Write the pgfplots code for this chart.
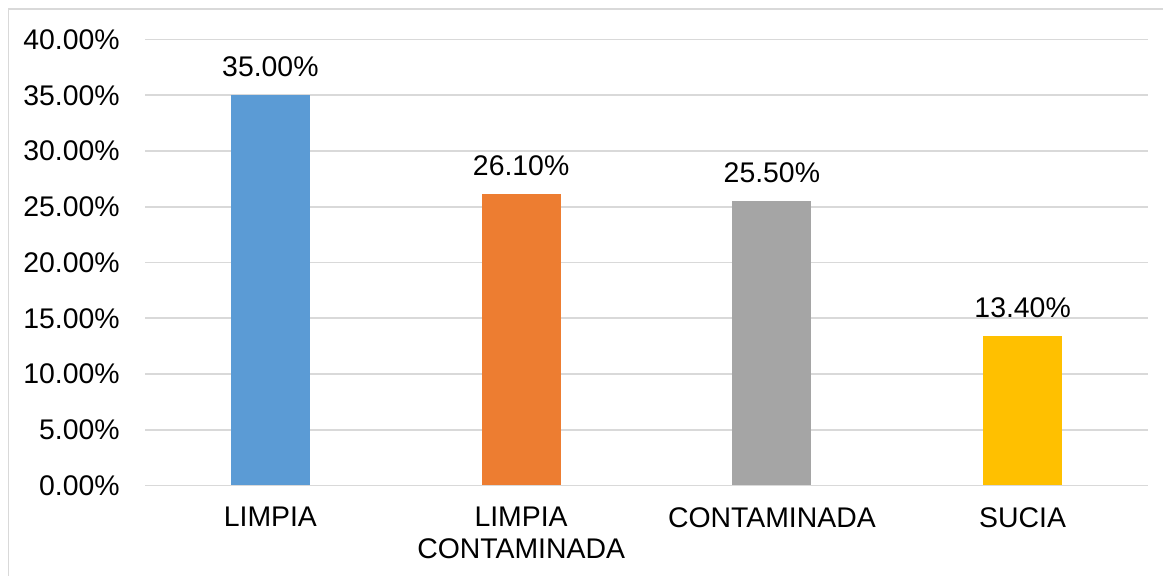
\documentclass[border=0pt]{standalone}
\usepackage{pgfplots}
\pgfplotsset{compat=1.18}
\usepackage{fontspec}
\setmainfont{Liberation Sans}
\definecolor{barblue}{HTML}{5B9BD5}
\definecolor{barorange}{HTML}{ED7D31}
\definecolor{bargray}{HTML}{A5A5A5}
\definecolor{bargold}{HTML}{FFC000}
\definecolor{gridgray}{HTML}{D9D9D9}

\begin{document}
\begin{tikzpicture}
% page = 1163x576 px at 0.5bp per px
\useasboundingbox (0,0) rectangle (581.5bp,288bp);
\draw[gridgray, line width=0.8bp] (4.25bp,0) -- (4.25bp,283.4bp) -- (581.5bp,283.4bp);
\begin{axis}[
    at={(72.5bp,45.25bp)}, anchor=south west,
    scale only axis,
    width=501.5bp, height=223bp,
    ybar, bar width=39.5bp, bar shift=0pt,
    xmin=-0.5, xmax=3.5,
    ymin=0, ymax=40,
    ytick={0,5,...,40},
    xtick={0,1,2,3},
    xticklabels={LIMPIA, {LIMPIA\\CONTAMINADA}, CONTAMINADA, SUCIA},
    axis line style={draw=none},
    major tick length=0pt,
    ymajorgrids,
    grid style={gridgray, line width=0.8bp},
    font=\fontsize{14.2bp}{16bp}\selectfont,
    yticklabel={\pgfmathprintnumber[fixed,fixed zerofill,precision=2,assume math mode=true]{\tick}\%},
    yticklabel style={anchor=east, inner sep=0pt, xshift=-12.5bp},
    xticklabel style={anchor=north, inner sep=0pt, yshift=-10.75bp, align=center},
    nodes near coords={\pgfmathprintnumber[fixed,fixed zerofill,precision=2,assume math mode=true]{\pgfplotspointmeta}\%},
    nodes near coords style={anchor=south, inner sep=0pt, yshift=9bp, text=black},
    every node near coord/.append style={font=\fontsize{14.2bp}{16bp}\selectfont},
]
\addplot[fill=barblue, draw=none] coordinates {(0,35.0)};
\addplot[fill=barorange, draw=none] coordinates {(1,26.1)};
\addplot[fill=bargray, draw=none] coordinates {(2,25.5)};
\addplot[fill=bargold, draw=none] coordinates {(3,13.4)};
\end{axis}
\end{tikzpicture}
\end{document}
